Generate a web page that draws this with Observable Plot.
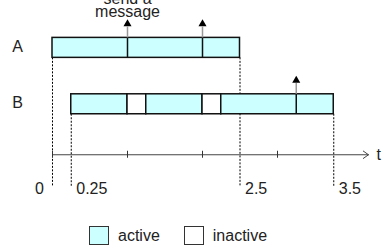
<!DOCTYPE html>
<html>
<head>
<meta charset="utf-8">
<script src="https://cdn.jsdelivr.net/npm/d3@7"></script>
<script src="https://cdn.jsdelivr.net/npm/@observablehq/plot@0.6"></script>
<style>
  html, body { margin: 0; padding: 0; background: #fff; }
  #chart { width: 384px; height: 249px; overflow: hidden; font-family: "Liberation Sans", Arial, sans-serif; }
  #chart svg { display: block; }
  .legend { display: flex; align-items: center; height: 20px; margin-top: 10.5px; margin-left: 89px; font-size: 16px; color: #222; }
  .legend .sw { box-sizing: border-box; width: 20px; height: 19.5px; border: 1px solid #333; }
  .legend .lab { margin-left: 9px; margin-right: 24px; line-height: 20px; }
</style>
</head>
<body>
<div id="chart"></div>
<script>
// ---- data ----
const rows = ["A", "B"];
const segmentRow   = ["A", "B", "B", "B", "B", "B"];
const segmentStart = [0, 0.25, 1, 1.25, 2, 2.25];
const segmentEnd   = [2.5, 1, 1.25, 2, 2.25, 3.75];
const segmentState = ["active", "active", "inactive", "active", "inactive", "active"];
const messageRow  = ["A", "A", "B"];
const messageTime = [1, 2, 3.25];
const messageLabel = "send a\nmessage";
const tickValues = [0, 1, 2, 3];
const markerRow   = ["A", "B", "A", "B"];
const markerTime  = [0, 0.25, 2.5, 3.75];
const markerLabel = ["0", "0.25", "2.5", "3.5"];
const axisLabel = "t";
const legendLabels = ["active", "inactive"];
const legendColors = ["#ccffff", "#ffffff"];

// ---- derived tables ----
const rowIndex = Object.fromEntries(rows.map((r, i) => [r, i]));
const segments = segmentRow.map((r, i) => ({row: rowIndex[r], start: segmentStart[i], end: segmentEnd[i], state: segmentState[i]}));
const messages = messageRow.map((r, i) => ({row: rowIndex[r], time: messageTime[i]}));
const markers = markerRow.map((r, i) => ({row: rowIndex[r], time: markerTime[i], label: markerLabel[i]}));
const rowLabels = rows.map((r, i) => ({row: i, label: r}));

// layout (in scale units)
const half = 0.177;       // half bar thickness
const axisY = 1.895;
const axisEnd = 4.213;
const tickHalf = 0.062;
const dashEnd = 2.47;
const labelY = 2.5;
const shaft = 0.19;
const tipY = d => d.row - half - 0.33;

const plot = Plot.plot({
  width: 384,
  height: 215,
  margin: 0,
  x: {domain: [-52 / 75, 332 / 75], range: [0, 384], axis: null},
  y: {domain: [-0.84, 2.972], range: [0, 215], axis: null},
  color: {domain: legendLabels, range: legendColors},
  style: {fontFamily: "Liberation Sans, Arial, sans-serif", fontSize: "16px", background: "#fff", color: "#222"},
  marks: [
    // dashed guide lines
    Plot.ruleX(markers, {x: "time", y1: d => d.row + half, y2: dashEnd, stroke: "#000", strokeWidth: 1, strokeDasharray: "2,1.5"}),
    // time axis
    Plot.arrow([{}], {x1: 0, x2: axisEnd, y1: axisY, y2: axisY, stroke: "#444", strokeWidth: 1, headLength: 9.5, headAngle: 71}),
    Plot.ruleX(tickValues, {x: d => d, y1: axisY - tickHalf, y2: axisY + tickHalf, stroke: "#333", strokeWidth: 1}),
    Plot.text([axisLabel], {x: axisEnd, y: axisY, text: d => d, dx: 8, textAnchor: "start", fontSize: 16, fill: "#222"}),
    // bars
    Plot.rect(segments, {x1: "start", x2: "end", y1: d => d.row - half, y2: d => d.row + half, fill: "state", stroke: "#111", strokeWidth: 1.5}),
    // messages
    Plot.ruleX(messages, {x: "time", y1: d => d.row - half, y2: d => d.row + half, stroke: "#111", strokeWidth: 1.5}),
    Plot.ruleX(messages, {x: "time", y1: d => d.row - half, y2: d => d.row - half - shaft, stroke: "#999", strokeWidth: 1.5}),
    Plot.dot(messages, {x: "time", y: tipY, symbol: "triangle", r: 3, fill: "#000", dy: 4.66}),
    Plot.text(messages.slice(0, 1), {x: "time", y: d => tipY(d) - 0.045, text: () => messageLabel, lineAnchor: "bottom", lineHeight: 0.8, fontSize: 16, fill: "#222"}),
    // row labels
    Plot.text(rowLabels, {x: -0.467, y: "row", text: "label", fontSize: 16, dy: -1, fill: "#222"}),
    // marker labels
    Plot.text(markers, {filter: d => d.time === 0, x: "time", y: labelY, text: "label", textAnchor: "end", dx: -8.5, fontSize: 16, fill: "#222"}),
    Plot.text(markers, {filter: d => d.time !== 0, x: "time", y: labelY, text: "label", textAnchor: "start", dx: 5, fontSize: 16, fill: "#222"})
  ]
});

const chart = document.getElementById("chart");
chart.appendChild(plot);

// legend
const legend = document.createElement("div");
legend.className = "legend";
legendLabels.forEach((lab, i) => {
  const sw = document.createElement("span");
  sw.className = "sw";
  sw.style.background = legendColors[i];
  const t = document.createElement("span");
  t.className = "lab";
  t.textContent = lab;
  legend.appendChild(sw);
  legend.appendChild(t);
});
chart.appendChild(legend);
</script>
</body>
</html>
